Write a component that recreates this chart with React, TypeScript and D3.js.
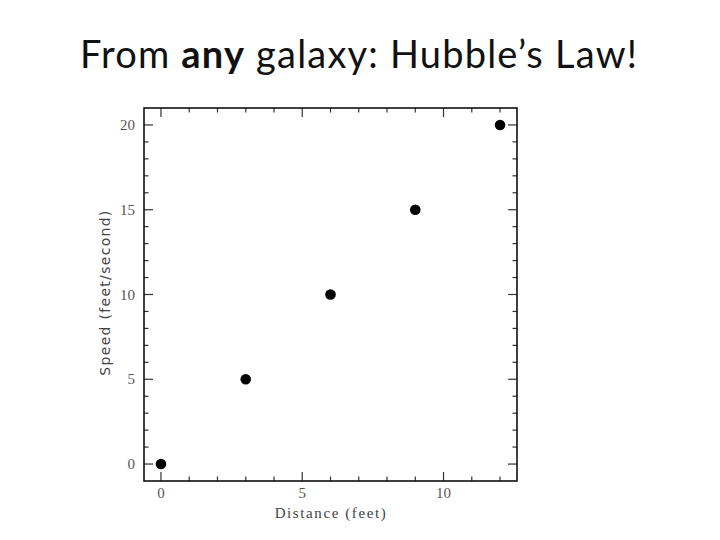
import { useEffect, useRef } from 'react';
import * as d3 from 'd3';

// distance (feet) vs speed (feet/second)
const distances = [0, 3, 6, 9, 12];
const speeds = [0, 5, 10, 15, 20];
const xMajorTicks = [0, 5, 10];
const yMajorTicks = [0, 5, 10, 15, 20];

const width = 720;
const height = 540;
const plot = { left: 144, top: 108, right: 517, bottom: 481 };

export default function App() {
  const svgRef = useRef<SVGSVGElement>(null);

  useEffect(() => {
    if (!svgRef.current) return;
    const svg = d3.select(svgRef.current);
    svg.selectAll('*').remove();

    const x = d3.scaleLinear().domain([-0.6, 12.6]).range([plot.left, plot.right]);
    const y = d3.scaleLinear().domain([-1, 21]).range([plot.bottom, plot.top]);

    svg.append('rect').attr('width', width).attr('height', height).attr('fill', '#fff');

    // title
    const title = svg.append('text')
      .attr('x', 359)
      .attr('y', 68)
      .attr('text-anchor', 'middle')
      .attr('font-family', 'Lato, "Open Sans", sans-serif')
      .attr('font-size', 38)
      .attr('letter-spacing', 1.2)
      .attr('fill', '#111');
    title.append('tspan').text('From ');
    title.append('tspan').attr('font-weight', 'bold').text('any');
    title.append('tspan').text(' galaxy: Hubble’s Law!');

    const g = svg.append('g');
    const tickColor = '#333';

    // minor + major ticks on all four sides, pointing inward
    const xMinor = d3.range(0, 13, 1);
    const yMinor = d3.range(0, 21, 1);
    xMinor.forEach(v => {
      const len = xMajorTicks.includes(v) ? 9 : 4.5;
      g.append('line').attr('x1', x(v)).attr('x2', x(v))
        .attr('y1', plot.bottom).attr('y2', plot.bottom - len)
        .attr('stroke', tickColor).attr('stroke-width', 1.2);
      g.append('line').attr('x1', x(v)).attr('x2', x(v))
        .attr('y1', plot.top).attr('y2', plot.top + len)
        .attr('stroke', tickColor).attr('stroke-width', 1.2);
    });
    yMinor.forEach(v => {
      const len = yMajorTicks.includes(v) ? 9 : 4.5;
      g.append('line').attr('y1', y(v)).attr('y2', y(v))
        .attr('x1', plot.left).attr('x2', plot.left + len)
        .attr('stroke', tickColor).attr('stroke-width', 1.2);
      g.append('line').attr('y1', y(v)).attr('y2', y(v))
        .attr('x1', plot.right).attr('x2', plot.right - len)
        .attr('stroke', tickColor).attr('stroke-width', 1.2);
    });

    // frame
    g.append('rect')
      .attr('x', plot.left).attr('y', plot.top)
      .attr('width', plot.right - plot.left).attr('height', plot.bottom - plot.top)
      .attr('fill', 'none').attr('stroke', '#111').attr('stroke-width', 1.6);

    const labelFont = '"Liberation Serif", "DejaVu Serif", serif';

    g.selectAll('.xlab').data(xMajorTicks).enter().append('text')
      .attr('x', d => x(d)).attr('y', 498)
      .attr('text-anchor', 'middle')
      .attr('font-family', labelFont).attr('font-size', 15)
      .attr('fill', '#555')
      .text(d => d);

    g.selectAll('.ylab').data(yMajorTicks).enter().append('text')
      .attr('x', 135).attr('y', d => y(d) + 5)
      .attr('text-anchor', 'end')
      .attr('font-family', labelFont).attr('font-size', 15)
      .attr('fill', '#555')
      .text(d => d);

    g.append('text')
      .attr('x', 331).attr('y', 518)
      .attr('text-anchor', 'middle')
      .attr('font-family', labelFont).attr('font-size', 15)
      .attr('letter-spacing', 1.6)
      .attr('fill', '#444')
      .text('Distance  (feet)');

    g.append('text')
      .attr('transform', `translate(110, ${(plot.top + plot.bottom) / 2 - 2}) rotate(-90)`)
      .attr('text-anchor', 'middle')
      .attr('font-family', '"DejaVu Sans", sans-serif').attr('font-size', 14)
      .attr('letter-spacing', 1.3)
      .attr('fill', '#444')
      .text('Speed  (feet/second)');

    // points
    g.selectAll('circle').data(distances).enter().append('circle')
      .attr('cx', d => x(d))
      .attr('cy', (d, i) => y(speeds[i]))
      .attr('r', 5.3)
      .attr('fill', '#000');
  }, []);

  return (
    <div style={{ width, height, margin: -8 }}>
      <svg ref={svgRef} width={width} height={height} />
    </div>
  );
}
